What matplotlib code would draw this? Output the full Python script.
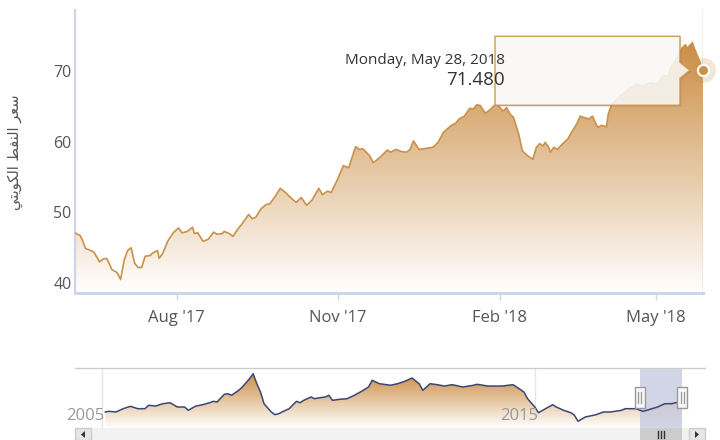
import matplotlib
matplotlib.use('Agg')
import matplotlib.pyplot as plt
import matplotlib.dates as mdates
import matplotlib.transforms as mtransforms
from matplotlib.patches import Rectangle, Polygon
import numpy as np
import datetime as dt

# ---------------- data ----------------
price_dates = [
    '2017-06-04', '2017-06-07', '2017-06-08', '2017-06-10', '2017-06-11', '2017-06-14', '2017-06-15',
    '2017-06-18', '2017-06-20', '2017-06-22', '2017-06-24', '2017-06-25', '2017-06-28', '2017-06-30',
    '2017-07-02', '2017-07-04', '2017-07-06', '2017-07-08', '2017-07-10', '2017-07-12', '2017-07-14',
    '2017-07-17', '2017-07-18', '2017-07-21', '2017-07-22', '2017-07-24', '2017-07-27', '2017-07-30',
    '2017-08-02', '2017-08-04', '2017-08-07', '2017-08-10', '2017-08-11', '2017-08-13', '2017-08-16',
    '2017-08-18', '2017-08-19', '2017-08-22', '2017-08-24', '2017-08-27', '2017-08-28', '2017-08-31',
    '2017-09-02', '2017-09-05', '2017-09-07', '2017-09-11', '2017-09-13', '2017-09-15', '2017-09-18',
    '2017-09-21', '2017-09-23', '2017-09-26', '2017-09-29', '2017-10-02', '2017-10-04', '2017-10-08',
    '2017-10-11', '2017-10-14', '2017-10-17', '2017-10-21', '2017-10-23', '2017-10-26', '2017-10-28',
    '2017-10-31', '2017-11-04', '2017-11-07', '2017-11-11', '2017-11-13', '2017-11-15', '2017-11-19',
    '2017-11-21', '2017-11-25', '2017-11-29', '2017-12-01', '2017-12-04', '2017-12-07', '2017-12-10',
    '2017-12-12', '2017-12-14', '2017-12-17', '2017-12-20', '2017-12-25', '2017-12-28', '2017-12-31',
    '2018-01-04', '2018-01-07', '2018-01-09', '2018-01-12', '2018-01-15', '2018-01-17', '2018-01-19',
    '2018-01-21', '2018-01-24', '2018-01-27', '2018-01-29', '2018-01-31', '2018-02-03', '2018-02-05',
    '2018-02-07', '2018-02-09', '2018-02-12', '2018-02-14', '2018-02-17', '2018-02-20', '2018-02-22',
    '2018-02-24', '2018-02-26', '2018-02-27', '2018-03-01', '2018-03-02', '2018-03-04', '2018-03-06',
    '2018-03-09', '2018-03-12', '2018-03-14', '2018-03-17', '2018-03-19', '2018-03-21', '2018-03-24',
    '2018-03-26', '2018-03-28', '2018-03-29', '2018-03-31', '2018-04-03', '2018-04-04', '2018-04-06',
    '2018-04-09', '2018-04-12', '2018-04-16', '2018-04-20', '2018-04-24', '2018-04-28', '2018-05-02',
    '2018-05-05', '2018-05-08', '2018-05-10', '2018-05-12', '2018-05-14', '2018-05-16', '2018-05-18',
    '2018-05-19', '2018-05-22', '2018-05-23', '2018-05-25', '2018-05-28',
]
price_values = [
    48.5, 48.1, 47.6, 46.3, 46.2, 45.9, 45.7,
    44.4, 44.8, 44.9, 43.9, 43.3, 42.9, 41.9,
    44.6, 46.0, 46.4, 44.2, 43.6, 43.6, 45.2,
    45.3, 45.6, 46.0, 44.9, 45.6, 47.4, 48.5,
    49.2, 48.5, 48.7, 49.3, 48.4, 48.5, 47.3,
    47.5, 47.6, 48.6, 48.3, 48.4, 48.7, 48.4,
    48.0, 49.1, 49.7, 51.1, 50.5, 50.7, 51.9,
    52.5, 52.6, 53.6, 54.8, 54.2, 53.7, 52.8,
    53.5, 52.4, 53.1, 54.8, 53.9, 54.4, 54.2,
    55.7, 58.0, 57.7, 60.7, 60.3, 60.4, 59.4,
    58.4, 59.2, 60.2, 59.9, 60.3, 60.0, 59.9,
    60.3, 61.5, 60.3, 60.4, 60.6, 61.3, 62.7,
    63.6, 64.0, 64.6, 65.0, 66.1, 66.0, 66.6,
    66.5, 65.4, 66.0, 66.5, 66.6, 65.7, 66.2,
    65.3, 64.8, 62.4, 60.1, 59.4, 58.9, 60.6,
    61.1, 60.8, 61.3, 60.6, 59.9, 60.6, 60.3,
    61.1, 61.8, 62.7, 63.9, 65.0, 64.8, 64.6,
    65.0, 63.9, 63.4, 63.7, 63.5, 65.3, 66.7,
    67.4, 68.1, 68.9, 69.5, 69.3, 69.7, 69.5,
    70.7, 70.7, 72.1, 72.6, 73.6, 74.6, 75.1,
    74.6, 75.4, 74.6, 73.4, 71.48,
]

nav_dates = [
    '2005-02-01', '2005-03-01', '2005-05-01', '2005-07-01', '2005-09-01', '2005-11-01',
    '2006-01-01', '2006-02-01', '2006-04-01', '2006-06-01', '2006-08-01', '2006-10-01', '2006-12-01',
    '2007-01-01', '2007-03-01', '2007-05-01', '2007-07-01', '2007-08-01', '2007-09-01', '2007-11-01',
    '2007-12-01', '2008-01-01', '2008-03-01', '2008-04-01', '2008-06-01', '2008-07-01', '2008-08-01',
    '2008-09-01', '2008-10-01', '2008-12-01', '2009-01-01', '2009-02-01', '2009-04-01', '2009-05-01',
    '2009-07-01', '2009-08-01', '2009-09-01', '2009-11-01', '2009-12-01', '2010-01-01', '2010-03-01',
    '2010-04-01', '2010-05-01', '2010-07-01', '2010-09-01', '2010-11-01', '2011-01-01', '2011-03-01',
    '2011-04-01', '2011-06-01', '2011-08-01', '2011-09-01', '2011-11-01', '2012-01-01', '2012-03-01',
    '2012-05-01', '2012-06-01', '2012-08-01', '2012-10-01', '2012-12-01', '2013-02-01', '2013-03-01',
    '2013-05-01', '2013-08-01', '2013-09-01', '2013-12-01', '2014-02-01', '2014-04-01', '2014-07-01',
    '2014-08-01', '2014-10-01', '2014-11-01', '2015-01-01', '2015-02-01', '2015-04-01', '2015-06-01',
    '2015-07-01', '2015-09-01', '2015-11-01', '2015-12-01', '2016-01-01', '2016-03-01', '2016-06-01',
    '2016-08-01', '2016-10-01', '2017-01-01', '2017-02-01', '2017-05-01', '2017-07-01', '2017-08-01',
    '2017-11-01', '2018-01-01', '2018-03-01', '2018-04-01', '2018-05-28',
]
nav_values = [
    42.7, 44.3, 42.7, 50.4, 56.0, 50.4,
    50.4, 58.3, 56.6, 62.0, 64.3, 54.3, 54.3,
    46.6, 56.0, 59.7, 64.3, 67.6, 66.0, 83.9,
    85.3, 81.6, 93.2, 100.9, 120.3, 131.9, 108.6,
    89.3, 62.0, 42.7, 36.4, 38.7, 46.6, 50.4,
    67.6, 64.3, 69.9, 77.6, 73.7, 75.3, 77.6,
    81.6, 69.9, 72.3, 73.7, 81.6, 90.9, 100.9,
    116.5, 108.6, 106.3, 105.0, 108.6, 114.2, 121.9,
    108.6, 93.2, 108.6, 106.3, 103.2, 106.3, 104.9,
    100.9, 104.9, 107.2, 103.2, 103.2, 103.2, 106.3,
    100.9, 89.3, 73.7, 54.3, 41.0, 50.4, 59.7,
    54.3, 46.6, 41.0, 35.0, 21.0, 31.0, 36.4,
    42.7, 42.7, 46.6, 50.4, 50.4, 44.3, 46.6,
    54.3, 62.0, 62.0, 64.3, 66.0,
]

x_tick_dates = ['2017-08-01', '2017-11-01', '2018-02-01', '2018-05-01']
x_tick_labels = ["Aug '17", "Nov '17", "Feb '18", "May '18"]
y_ticks = [40, 50, 60, 70]
nav_tick_dates = ['2005-01-01', '2015-01-01']
nav_tick_labels = ['2005', '2015']
y_label = 'سعر النفط الكويتي'

# ---------------- helpers ----------------
plt.rcParams['font.family'] = ['Open Sans', 'DejaVu Sans']

ARABIC_FORMS = {  # isolated, final, initial, medial
    'ا': ('\ufe8d', '\ufe8e', None, None),
    'ر': ('\ufead', '\ufeae', None, None),
    'و': ('\ufeed', '\ufeee', None, None),
    'س': ('\ufeb1', '\ufeb2', '\ufeb3', '\ufeb4'),
    'ع': ('\ufec9', '\ufeca', '\ufecb', '\ufecc'),
    'ل': ('\ufedd', '\ufede', '\ufedf', '\ufee0'),
    'ن': ('\ufee5', '\ufee6', '\ufee7', '\ufee8'),
    'ف': ('\ufed1', '\ufed2', '\ufed3', '\ufed4'),
    'ط': ('\ufec1', '\ufec2', '\ufec3', '\ufec4'),
    'ك': ('\ufed9', '\ufeda', '\ufedb', '\ufedc'),
    'ي': ('\ufef1', '\ufef2', '\ufef3', '\ufef4'),
    'ت': ('\ufe95', '\ufe96', '\ufe97', '\ufe98'),
}


def shape_arabic(text):
    out = []
    for i, ch in enumerate(text):
        if ch not in ARABIC_FORMS:
            out.append(ch)
            continue
        prev = text[i - 1] if i > 0 else ''
        nxt = text[i + 1] if i + 1 < len(text) else ''
        iso, fin, ini, med = ARABIC_FORMS[ch]
        jp = prev in ARABIC_FORMS and ARABIC_FORMS[prev][2] is not None
        jn = nxt in ARABIC_FORMS and ini is not None
        if jp and jn:
            out.append(med)
        elif jp:
            out.append(fin)
        elif jn:
            out.append(ini)
        else:
            out.append(iso)
    return ''.join(reversed(out))


def gradient_fill(ax, x, y, base, top_rgb, zorder):
    poly = ax.fill_between(x, y, base, facecolor='none', edgecolor='none')
    path = poly.get_paths()[0]
    ymax = float(np.max(y))
    t = np.linspace(0, 1, 256)[:, None]
    rgb = np.array(top_rgb)[None, :] * t + (1 - t)
    im = ax.imshow(rgb[:, None, :], extent=[x[0], x[-1], base, ymax], origin='lower',
                   aspect='auto', zorder=zorder, interpolation='bilinear')
    im.set_clip_path(path, transform=ax.transData)


W, H = 720, 440
fig = plt.figure(figsize=(7.2, 4.4), dpi=100)

LINE = '#c8924b'
TOP_RGB = (0.80, 0.555, 0.27)
AXIS_C = '#ccd6eb'

# ---------------- main chart ----------------
px_left, px_right, px_top, px_bot = 75, 703, 10, 293
ax = fig.add_axes([px_left / W, 1 - px_bot / H, (px_right - px_left) / W, (px_bot - px_top) / H])
xd = mdates.date2num(np.array(price_dates, dtype='datetime64[D]'))
yv = np.array(price_values)
gradient_fill(ax, xd, yv, 40, TOP_RGB, zorder=1)
ax.plot(xd, yv, color=LINE, lw=1.2, zorder=3)
ax.axvline(xd[-1], color='#d8a865', lw=1, zorder=2)
ax.set_xlim(xd[0], xd[-1])
ax.set_ylim(40, 80)

for s in ['top', 'right']:
    ax.spines[s].set_visible(False)
ax.spines['left'].set_color(AXIS_C)
ax.spines['left'].set_linewidth(1.6)
ax.spines['bottom'].set_color(AXIS_C)
ax.spines['bottom'].set_linewidth(2.2)

ax.set_yticks(y_ticks)
ax.set_yticklabels([str(v) for v in y_ticks])
ax.tick_params(axis='y', length=0, pad=2.5, labelsize=11.5, labelcolor='#555555')
for lab in ax.get_yticklabels():
    lab.set_verticalalignment('bottom')
ax.set_xticks(mdates.date2num(np.array(x_tick_dates, dtype='datetime64[D]')))
ax.set_xticklabels(x_tick_labels)
ax.tick_params(axis='x', length=5, width=1, color=AXIS_C, pad=7, labelsize=12, labelcolor='#555555')

# marker at last point
ax.plot(xd[-1], yv[-1], 'o', ms=18, color=LINE, alpha=0.22, mew=0, clip_on=False, zorder=6)
ax.plot(xd[-1], yv[-1], 'o', ms=8, mfc=LINE, mec='white', mew=1.5, clip_on=False, zorder=7)

# y label
fig.text(15 / W, 1 - 152 / H, shape_arabic(y_label), rotation=90, ha='center', va='center',
         fontsize=10.5, color='#555555', family='DejaVu Sans')

# ---------------- overlay (pixel coords) ----------------
ov = fig.add_axes([0, 0, 1, 1], zorder=10)
ov.set_xlim(0, W)
ov.set_ylim(H, 0)
ov.axis('off')
ov.patch.set_alpha(0)

mx, my = ax.transData.transform((xd[-1], yv[-1]))
my = H - my
# tooltip
bl, br, bt, bb = 495, mx - 23, my - 34, my + 35
tip = mx - 13
pts = [(bl, bt), (br, bt), (br, my - 8), (tip, my), (br, my + 8), (br, bb), (bl, bb)]
ov.add_patch(Polygon([(p[0] + 1.5, p[1] + 1.5) for p in pts], closed=True, fc='black', ec='none', alpha=0.08))
ov.add_patch(Polygon(pts, closed=True, fc='#fbfaf8', ec='#c8964f', lw=1.1, alpha=0.88))
last_day = dt.datetime.strptime(price_dates[-1], '%Y-%m-%d')
ov.text(bl + 10, my - 10, last_day.strftime('%A, %B %d, %Y').replace(' 0', ' '), ha='right', va='center',
        fontsize=11, color='#333333')
ov.text(bl + 10, my + 10, f'{price_values[-1]:.3f}', ha='right', va='center', fontsize=13.5,
        color='#333333')

# ---------------- navigator ----------------
nav_top, nav_bot, nav_l, nav_r = 368, 428, 75, 705
nav = fig.add_axes([nav_l / W, 1 - nav_bot / H, (nav_r - nav_l) / W, (nav_bot - nav_top) / H])
nx = mdates.date2num(np.array(nav_dates, dtype='datetime64[D]'))
ny = np.array(nav_values)
gradient_fill(nav, nx, ny, 5.4, TOP_RGB, zorder=1)
nav.plot(nx, ny, color='#3b4675', lw=1.1, zorder=4)
nav.set_xlim(mdates.date2num(np.datetime64('2004-05-21')), mdates.date2num(np.datetime64('2018-12-06')))
nav.set_ylim(5.4, 145.2)
nav.axis('off')
ntd = mdates.date2num(np.array(nav_tick_dates, dtype='datetime64[D]'))
blend = mtransforms.blended_transform_factory(nav.transData, nav.transAxes)
for d, lab in zip(ntd, nav_tick_labels):
    nav.axvline(d, color='#e6e6e6', lw=1, zorder=0)
    tr = mtransforms.offset_copy(blend, fig=fig, x=3, y=0, units='dots')
    nav.text(d, 0.2, lab, transform=tr, ha='right', va='center', fontsize=12, color='#999999', zorder=5)
sel0, sel1 = xd[0], xd[-1]
nav.axvspan(sel0, sel1, color='#c3c8e0', alpha=0.75, zorder=3, lw=0)
ov.plot([nav_l, nav_r], [nav_top, nav_top], color='#cccccc', lw=1)

sx0 = nav.transData.transform((sel0, 0))[0]
sx1 = nav.transData.transform((sel1, 0))[0]
# scrollbar
ov.add_patch(Rectangle((75, 428), 630, 12, fc='#f2f2f2', ec='none'))
ov.add_patch(Rectangle((sx0, 428), sx1 - sx0, 12, fc='#cccccc', ec='none'))
ov.add_patch(Rectangle((75, 428), 16, 12, fc='#e6e6e6', ec='#cccccc', lw=1))
ov.add_patch(Rectangle((689, 428), 16, 12, fc='#e6e6e6', ec='#cccccc', lw=1))
ov.add_patch(Polygon([(85, 431), (85, 438), (81, 434.5)], closed=True, fc='#333333', ec='none'))
ov.add_patch(Polygon([(695, 431), (695, 438), (699, 434.5)], closed=True, fc='#333333', ec='none'))
cx = (sx0 + sx1) / 2
for dx in (-3, 0, 3):
    ov.plot([cx + dx, cx + dx], [431, 438], color='#333333', lw=1)
# handles
for hx in (sx0, sx1):
    ov.add_patch(Rectangle((hx - 5, 387), 10, 21, fc='#f7f7f7', ec='#999999', lw=1))
    for dx in (-1.5, 1.5):
        ov.plot([hx + dx, hx + dx], [392, 403], color='#999999', lw=0.9)

fig.savefig('out.png', dpi=100)
